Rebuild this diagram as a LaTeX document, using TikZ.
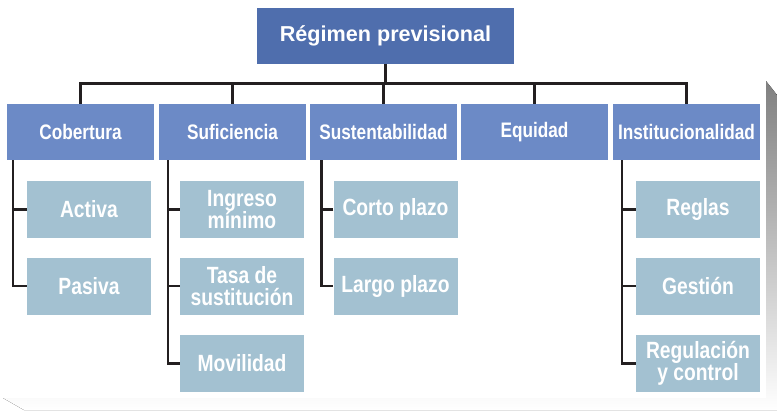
\documentclass[tikz,border=0pt]{standalone}
\usepackage{fontspec}
\setmainfont{Liberation Sans}[FakeStretch=0.82]
\newfontfamily\rootfont{Liberation Sans}
\definecolor{rootblue}{HTML}{4F6EAD}
\definecolor{mainblue}{HTML}{6C8AC6}
\definecolor{subblue}{HTML}{A3C1D1}
\definecolor{shade}{HTML}{BDBEC0}
\definecolor{linegray}{HTML}{231F20}
\tikzset{
  rootbox/.style={fill=rootblue, text=white, inner sep=2pt, minimum width=257pt, minimum height=56pt, font=\rootfont\bfseries\fontsize{21.6}{26}\selectfont},
  mainbox/.style={fill=mainblue, text=white, inner sep=2pt, minimum width=147pt, minimum height=56pt, font=\bfseries\fontsize{21}{24}\selectfont},
  subbox/.style={fill=subblue, text=white, inner sep=2pt, minimum width=124pt, minimum height=57pt, align=center, font=\bfseries\fontsize{23.5}{22.5}\selectfont},
  link/.style={draw=linegray, line width=2.6pt}
}
\begin{document}
\begin{tikzpicture}[x=1pt,y=-1pt]
\useasboundingbox (0,0) rectangle (777,410);
% shadow of the panel
\fill[shade] (3,398)--(766,398)--(766,81)--(777,95)--(777,410)--(24,410)--cycle;
% boxes
\node[rootbox] (root) at (385.5,36) {Régimen previsional};
\node[mainbox] (cob) at (80.5,132) {Cobertura};
\node[mainbox] (suf) at (232.5,132) {Suficiencia};
\node[mainbox] (sus) at (383.5,132) {Sustentabilidad};
\node[mainbox] (equ) at (534.5,132) {Equidad};
\node[mainbox] (inst) at (686.5,132) {Institucionalidad};
\node[subbox] (act) at (89,209.5) {Activa};
\node[subbox] (pas) at (89,286) {Pasiva};
\node[subbox] (ing) at (242,209.5) {Ingreso\\mínimo};
\node[subbox] (tasa) at (242,286) {Tasa de\\sustitución};
\node[subbox] (mov) at (242,363.5) {Movilidad};
\node[subbox] (corto) at (395.5,209.5) {Corto plazo};
\node[subbox] (largo) at (395.5,286) {Largo plazo};
\node[subbox] (reg) at (698,209.5) {Reglas};
\node[subbox] (ges) at (698,286) {Gestión};
\node[subbox] (regc) at (698,363.5) {Regulación\\y control};
% connectors
\foreach \n in {cob,suf,sus,equ,inst}
  \draw[link] (root.south)--++(0,19)-|(\n.north);
\draw[link] (cob.south -| act.west) ++(-14,0) |- (pas.west);
\draw[link] (act.west)--++(-14,0);
\draw[link] (suf.south -| ing.west) ++(-12,0) |- (mov.west);
\draw[link] (ing.west)--++(-12,0);
\draw[link] (tasa.west)--++(-12,0);
\draw[link] (sus.south -| corto.west) ++(-12,0) |- (largo.west);
\draw[link] (corto.west)--++(-12,0);
\draw[link] (inst.south -| reg.west) ++(-14,0) |- (regc.west);
\draw[link] (reg.west)--++(-14,0);
\draw[link] (ges.west)--++(-14,0);
\end{tikzpicture}
\end{document}
